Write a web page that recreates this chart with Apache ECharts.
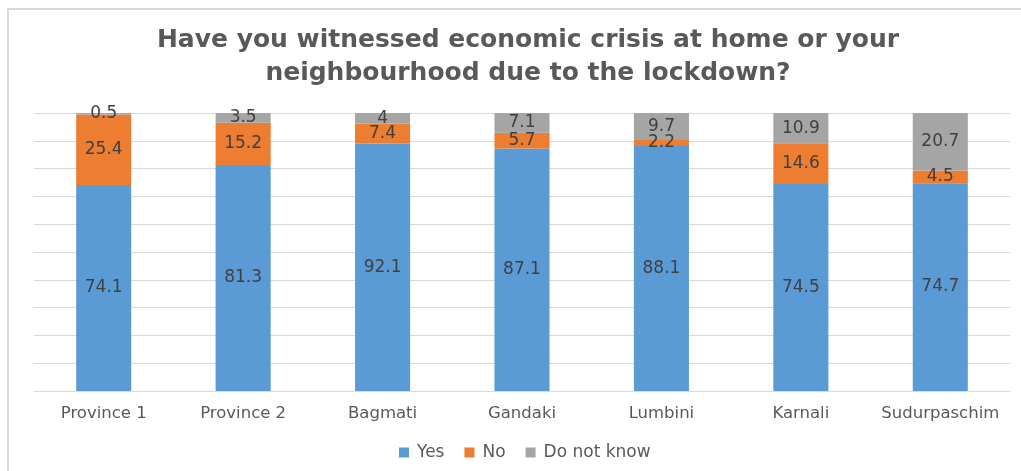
<!DOCTYPE html>
<html>
<head>
<meta charset="utf-8">
<script src="https://cdn.jsdelivr.net/npm/echarts@6/dist/echarts.min.js"></script>
<style>
  html, body { margin: 0; padding: 0; background: #fff; }
  #chart { width: 1021px; height: 471px; }
</style>
</head>
<body>
<div id="chart"></div>
<script>
// Survey responses by province (percent of respondents)
const provinces = ['Province 1', 'Province 2', 'Bagmati', 'Gandaki', 'Lumbini', 'Karnali', 'Sudurpaschim'];
const yesValues = [74.1, 81.3, 92.1, 87.1, 88.1, 74.5, 74.7];
const noValues = [25.4, 15.2, 7.4, 5.7, 2.2, 14.6, 4.5];
const dontKnowValues = [0.5, 3.5, 4, 7.1, 9.7, 10.9, 20.7];

const seriesNames = ['Yes', 'No', 'Do not know'];
const seriesColors = ['#5B9BD5', '#ED7D31', '#A5A5A5'];
const raw = [yesValues, noValues, dontKnowValues];

// 100% stacked: each column is scaled by its own total
const totals = provinces.map((_, i) => raw.reduce((s, arr) => s + arr[i], 0));
const shares = raw.map(arr => arr.map((v, i) => v / totals[i] * 100));

const FONT = 'DejaVu Sans';
const chart = echarts.init(document.getElementById('chart'), null, { renderer: 'canvas' });

chart.setOption({
  backgroundColor: '#fff',
  animation: false,
  textStyle: { fontFamily: FONT },
  graphic: [{
    type: 'rect',
    shape: { x: 8, y: 9, width: 1040, height: 490 },
    style: { fill: 'none', stroke: '#D9D9D9', lineWidth: 2 },
    silent: true,
    z: -1
  }],
  title: {
    text: 'Have you witnessed economic crisis at home or your\nneighbourhood due to the lockdown?',
    left: 523,
    textAlign: 'center',
    top: 19,
    textStyle: {
      fontFamily: FONT,
      fontWeight: 'bold',
      fontSize: 25,
      lineHeight: 33,
      color: '#595959'
    }
  },
  legend: {
    data: seriesNames,
    top: 439,
    left: 394,
    itemWidth: 10,
    itemHeight: 10,
    itemGap: 20,
    icon: 'rect',
    textStyle: { fontSize: 17, color: '#595959', fontFamily: FONT, padding: [0, 0, 0, 3] }
  },
  grid: { left: 34, right: 11, top: 113, bottom: 80 },
  xAxis: {
    type: 'category',
    data: provinces,
    axisLine: { lineStyle: { color: '#D9D9D9', width: 1 } },
    axisTick: { show: false },
    axisLabel: { interval: 0, fontSize: 16.5, color: '#595959', margin: 14, fontFamily: FONT }
  },
  yAxis: {
    type: 'value',
    min: 0,
    max: 100,
    interval: 10,
    axisLabel: { show: false },
    axisLine: { show: false },
    axisTick: { show: false },
    splitLine: { lineStyle: { color: '#D9D9D9', width: 1 } }
  },
  series: seriesNames.map((name, k) => ({
    name: name,
    type: 'bar',
    stack: 'total',
    barWidth: '39.5%',
    itemStyle: { color: seriesColors[k] },
    label: {
      show: true,
      position: 'inside',
      fontSize: 17,
      color: '#404040',
      fontFamily: FONT,
      formatter: p => String(raw[k][p.dataIndex])
    },
    data: shares[k]
  }))
});
</script>
</body>
</html>
